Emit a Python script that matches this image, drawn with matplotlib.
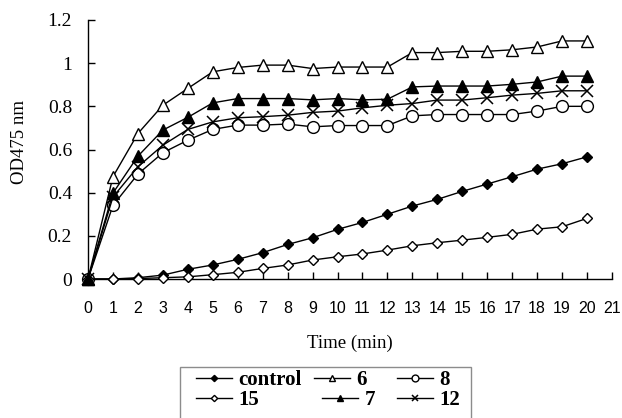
import matplotlib
matplotlib.use("Agg")
import matplotlib.pyplot as plt
from matplotlib.lines import Line2D
from matplotlib.patches import Rectangle

time = list(range(0, 21))
control = [0, 0, 0.006, 0.018, 0.045, 0.065, 0.091, 0.122, 0.16, 0.191, 0.23,
           0.262, 0.30, 0.338, 0.369, 0.406, 0.44, 0.474, 0.509, 0.534, 0.566]
s6 = [0, 0.474, 0.674, 0.805, 0.883, 0.96, 0.98, 0.991, 0.991, 0.975, 0.982,
      0.982, 0.982, 1.049, 1.049, 1.055, 1.055, 1.062, 1.075, 1.103, 1.103]
s8 = [0, 0.341, 0.486, 0.585, 0.643, 0.693, 0.713, 0.713, 0.718, 0.705, 0.711,
      0.711, 0.711, 0.756, 0.762, 0.762, 0.762, 0.762, 0.778, 0.80, 0.80]
s15 = [0, 0, 0.002, 0.006, 0.01, 0.02, 0.031, 0.049, 0.065, 0.088, 0.103,
       0.116, 0.134, 0.154, 0.168, 0.18, 0.193, 0.207, 0.231, 0.242, 0.281]
s7 = [0, 0.398, 0.569, 0.69, 0.749, 0.816, 0.836, 0.836, 0.836, 0.830, 0.836,
      0.830, 0.833, 0.89, 0.894, 0.894, 0.894, 0.902, 0.913, 0.94, 0.94]
s12 = [0, 0.38, 0.52, 0.62, 0.693, 0.728, 0.747, 0.752, 0.759, 0.772, 0.778,
       0.793, 0.805, 0.813, 0.829, 0.829, 0.84, 0.852, 0.86, 0.872, 0.872]

xticks = list(range(0, 22))
yticks = [0, 0.2, 0.4, 0.6, 0.8, 1.0, 1.2]
ytick_labels = ["0", "0.2", "0.4", "0.6", "0.8", "1", "1.2"]

W, H = 622, 418
fig = plt.figure(figsize=(W / 100, H / 100), dpi=100)
ax = fig.add_axes([88 / W, 1 - 279 / H, (612 - 88) / W, (279 - 20) / H])

styles = {
    "control": dict(marker="D", mfc="black", mec="black", ms=5.5),
    "6": dict(marker="^", mfc="white", mec="black", ms=8.5),
    "8": dict(marker="o", mfc="white", mec="black", ms=8.5),
    "15": dict(marker="D", mfc="white", mec="black", ms=5.5),
    "7": dict(marker="^", mfc="black", mec="black", ms=8.5),
    "12": dict(marker="x", mfc="black", mec="black", ms=8, mew=1.1),
}
series = {"control": control, "6": s6, "8": s8, "15": s15, "7": s7, "12": s12}

for name, vals in series.items():
    ax.plot(time, vals, color="black", lw=1.0, clip_on=False, zorder=3, **styles[name])

ax.set_xlim(0, 21)
ax.set_ylim(0, 1.2)
ax.set_xticks(xticks)
ax.set_xticklabels([str(t) for t in xticks], family="Liberation Sans", fontsize=11.5)
ax.set_yticks(yticks)
ax.set_yticklabels(ytick_labels, family="Liberation Serif", fontsize=14)
ax.tick_params(axis="both", direction="in", length=5, width=1, color="black")
ax.tick_params(axis="x", pad=16)
ax.tick_params(axis="y", pad=11.5)
for s in ["top", "right"]:
    ax.spines[s].set_visible(False)
for s in ["left", "bottom"]:
    ax.spines[s].set_linewidth(1)

ax.set_xlabel("Time (min)", family="Liberation Serif", fontsize=13.5, va="center")
ax.xaxis.set_label_coords(0.5, (279 - 343) / 259)
ax.set_ylabel("OD475 nm", family="Liberation Serif", fontsize=13.5, va="center")
ax.yaxis.set_label_coords((20 - 88) / 524, (279 - 142) / 259)

# legend frame
fig.patches.append(Rectangle((180 / W, -0.05), (471 - 180) / W, (1 - 367 / H) + 0.05,
                             transform=fig.transFigure, facecolor="white",
                             edgecolor="#8c8c8c", lw=1, zorder=1))

entries = [("control", 196, 370), ("15", 196, 390), ("6", 314, 370),
           ("7", 322, 390), ("8", 397, 370), ("12", 397, 390)]
for name, x0, y0 in entries:
    st = dict(styles[name])
    st["ms"] = st["ms"] * 0.58
    h = Line2D([], [], color="black", lw=1.0, **st)
    leg = fig.legend([h], [name], loc="upper left",
                     bbox_to_anchor=(x0 / W, 1 - y0 / H),
                     prop=dict(family="Liberation Serif", weight="bold", size=15),
                     frameon=False,
                     handlelength=1.75, handletextpad=0.28,
                     borderpad=0.0, borderaxespad=0)
    leg.set_zorder(2)

fig.savefig("out.png", dpi=100)
